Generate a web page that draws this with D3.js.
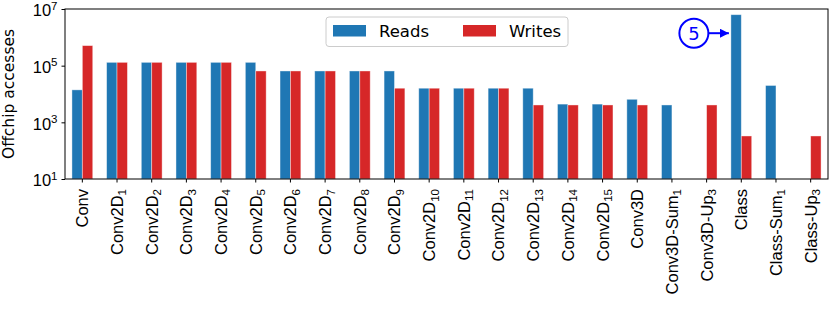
<!DOCTYPE html>
<html>
<head>
<meta charset="utf-8">
<script src="https://cdn.jsdelivr.net/npm/d3@7"></script>
<style>
  body { margin: 0; background: #fff; }
  svg { font-family: "DejaVu Sans", sans-serif; }
</style>
</head>
<body>
<svg id="chart" width="830" height="312"></svg>
<script>
// layer names, "_" marks a subscript
const categories = ['Conv', 'Conv2D_1', 'Conv2D_2', 'Conv2D_3', 'Conv2D_4', 'Conv2D_5', 'Conv2D_6',
  'Conv2D_7', 'Conv2D_8', 'Conv2D_9', 'Conv2D_10', 'Conv2D_11', 'Conv2D_12', 'Conv2D_13',
  'Conv2D_14', 'Conv2D_15', 'Conv3D', 'Conv3D-Sum_1', 'Conv3D-Up_3', 'Class', 'Class-Sum_1', 'Class-Up_3']

const reads = [1.4e4, 1.31e5, 1.31e5, 1.31e5, 1.31e5, 1.31e5, 6.5e4,
  6.5e4, 6.5e4, 6.5e4, 1.6e4, 1.6e4, 1.6e4, 1.6e4,
  4.4e3, 4.4e3, 6.5e3, 4.1e3, null, 6.3e6, 2.0e4, null]

const writes = [5.1e5, 1.31e5, 1.31e5, 1.31e5, 1.31e5, 6.5e4, 6.5e4,
  6.5e4, 6.5e4, 1.6e4, 1.6e4, 1.6e4, 1.6e4, 4.1e3,
  4.1e3, 4.1e3, 4.1e3, null, 4.1e3, 330, null, 330]

const seriesNames = ['Reads', 'Writes']
const seriesColors = ['#1f77b4', '#d62728']
const yTicks = [1e1, 1e3, 1e5, 1e7]
const annotation = { label: '5', target: 'Class', value: 1.4e6 }

const svg = d3.select('#chart')
const margin = { top: 9, right: 2, bottom: 133, left: 65 }
const width = +svg.attr('width')
const height = +svg.attr('height')
const fontSize = 16.5

const x = d3.scaleBand()
  .domain(categories)
  .range([margin.left, width - margin.right])

const barW = x.step() * 0.3
const xSeries = d3.scaleBand()
  .domain(seriesNames)
  .range([-barW, barW])

const y = d3.scaleLog()
  .domain([1e1, 1e7])
  .range([height - margin.bottom, margin.top])

const color = d3.scaleOrdinal().domain(seriesNames).range(seriesColors)

const rows = categories.map((c, i) => ({ cat: c, values: [reads[i], writes[i]] }))

// Bars
svg.append('g')
  .selectAll('g')
  .data(rows)
  .join('g')
    .attr('transform', d => `translate(${x(d.cat) + x.bandwidth() / 2},0)`)
  .selectAll('rect')
  .data(d => d.values.map((v, j) => ({ key: seriesNames[j], value: v })).filter(d => d.value != null))
  .join('rect')
    .attr('x', d => xSeries(d.key))
    .attr('width', xSeries.bandwidth())
    .attr('y', d => y(d.value))
    .attr('height', d => y(1e1) - y(d.value))
    .attr('fill', d => color(d.key))
    .attr('stroke', '#fff')
    .attr('stroke-opacity', 0.5)
    .attr('stroke-width', 0.8)

// Y axis with superscript labels
const yAxis = svg.append('g')
  .attr('transform', `translate(${margin.left},0)`)
  .call(d3.axisLeft(y).tickValues(yTicks).tickSize(3.5).tickPadding(4).tickFormat(''))
yAxis.select('.domain').remove()
yAxis.selectAll('.tick line').attr('stroke', '#000')
yAxis.selectAll('.tick text')
  .attr('font-size', fontSize)
  .attr('fill', '#000')
  .attr('dy', '0.42em')
  .each(function (d) {
    const t = d3.select(this)
    t.append('tspan').text('10')
    t.append('tspan').attr('font-size', 11.5).attr('dy', '-0.6em').text(Math.round(Math.log10(d)))
  })

// X axis with rotated labels
const xAxis = svg.append('g')
  .attr('transform', `translate(0,${height - margin.bottom})`)
  .call(d3.axisBottom(x).tickSize(3.5).tickFormat(''))
xAxis.select('.domain').remove()
xAxis.selectAll('.tick line').attr('stroke', '#000')
xAxis.selectAll('.tick text').remove()
xAxis.selectAll('.tick')
  .append('text')
    .attr('transform', 'rotate(-90)')
    .attr('x', -10)
    .attr('y', 0)
    .attr('dy', '0.36em')
    .attr('text-anchor', 'end')
    .attr('font-size', fontSize)
    .attr('fill', '#000')
    .each(function (d) {
      const [base, sub] = d.split('_')
      const t = d3.select(this)
      t.append('tspan').text(base)
      if (sub) t.append('tspan').attr('font-size', 11.5).attr('dy', '0.3em').text(sub)
    })

// Frame
svg.append('rect')
  .attr('x', margin.left)
  .attr('y', margin.top)
  .attr('width', width - margin.left - margin.right)
  .attr('height', height - margin.top - margin.bottom)
  .attr('fill', 'none')
  .attr('stroke', '#000')
  .attr('stroke-width', 1)

// Y label
svg.append('text')
  .attr('transform', `translate(14,${(margin.top + height - margin.bottom) / 2}) rotate(-90)`)
  .attr('text-anchor', 'middle')
  .attr('font-size', 15.5)
  .text('Offchip accesses')

// Legend
const legend = svg.append('g').attr('transform', 'translate(326,17)')
legend.append('rect')
  .attr('width', 242)
  .attr('height', 29.5)
  .attr('rx', 3)
  .attr('fill', '#fff')
  .attr('fill-opacity', 0.8)
  .attr('stroke', '#ccc')
const legendItems = legend.selectAll('.item')
  .data(seriesNames)
  .join('g')
    .attr('class', 'item')
    .attr('transform', (d, i) => `translate(${7 + i * 130},8)`)
legendItems.append('rect')
  .attr('width', 33)
  .attr('height', 11.5)
  .attr('fill', d => color(d))
legendItems.append('text')
  .attr('x', 46)
  .attr('y', 6)
  .attr('dy', '0.36em')
  .attr('font-size', fontSize)
  .text(d => d)

// Annotation: circled number with arrow pointing at the Class bar
const tipX = x(annotation.target) + x.bandwidth() / 2 + xSeries('Reads') - 2
const tipY = y(annotation.value)
const circR = 14.5
const circX = tipX - 35
svg.append('defs').append('marker')
  .attr('id', 'arrow')
  .attr('viewBox', '0 0 10 10')
  .attr('refX', 10)
  .attr('refY', 5)
  .attr('markerWidth', 4.5)
  .attr('markerHeight', 4.5)
  .attr('orient', 'auto')
  .append('path')
    .attr('d', 'M0,0L10,5L0,10z')
    .attr('fill', '#0000ff')
const ann = svg.append('g')
ann.append('circle')
  .attr('cx', circX)
  .attr('cy', tipY)
  .attr('r', circR)
  .attr('fill', 'none')
  .attr('stroke', '#0000ff')
  .attr('stroke-width', 2)
ann.append('text')
  .attr('x', circX)
  .attr('y', tipY)
  .attr('dy', '0.36em')
  .attr('text-anchor', 'middle')
  .attr('font-size', 18)
  .attr('fill', '#0000ff')
  .text(annotation.label)
ann.append('line')
  .attr('x1', circX + circR)
  .attr('x2', tipX)
  .attr('y1', tipY)
  .attr('y2', tipY)
  .attr('stroke', '#0000ff')
  .attr('stroke-width', 2)
  .attr('marker-end', 'url(#arrow)')
</script>
</body>
</html>
